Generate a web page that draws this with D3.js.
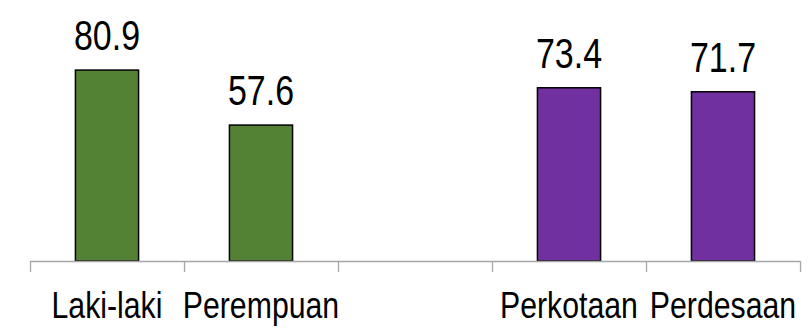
<!DOCTYPE html>
<html lang="en">
<head>
    <meta charset="UTF-8">
    <title>Bar Chart</title>
    <style>
        body { margin: 0; background: #fff; }
        .value-label, .cat-label
        {
            font-family: "Liberation Sans", Arial, sans-serif;
            fill: #000;
        }
        .value-label { font-size: 43px; }
        .cat-label { font-size: 36px; }
    </style>
</head>
<body>

    <svg width="808" height="333"></svg>

    <script src="https://d3js.org/d3.v7.min.js"></script>

    <script>

        // Categories (the empty one is the gap between the two groups)
        const categories = ['Laki-laki', 'Perempuan', '', 'Perkotaan', 'Perdesaan'];
        const values = [80.9, 57.6, null, 73.4, 71.7];
        const colors = ['#548235', '#548235', null, '#7030a0', '#7030a0'];

        const svg = d3.select('svg');

        const margin = { left: 30, right: 8, top: 25, bottom: 72 };
        const width = +svg.attr('width');
        const height = +svg.attr('height');
        const innerWidth = width - margin.left - margin.right;
        const innerHeight = height - margin.top - margin.bottom;

        // No narrow font installed, so squeeze the regular one horizontally
        const narrowValue = 0.79;
        const narrowCat = 0.84;

        const squeeze = function (sel, factor) {
            sel.each(function () {
                const len = this.getComputedTextLength();
                d3.select(this)
                    .attr('textLength', len * factor)
                    .attr('lengthAdjust', 'spacingAndGlyphs');
            });
        };

        const group = svg.append('g')
            .attr('transform', 'translate(' + margin.left + ' ' + margin.top + ')');

        const xScale = d3.scaleBand()
            .domain(d3.range(categories.length))
            .range([0, innerWidth])
            .paddingInner(0.59)
            .paddingOuter(0.295);

        const yScale = d3.scaleLinear()
            .domain([0, 100])
            .range([innerHeight, 0]);

        const data = categories.map(function (c, i) {
            return { i: i, name: c, value: values[i], color: colors[i] };
        });

        // Bars
        group.selectAll('rect.bar')
            .data(data.filter(function (d) { return d.value != null; }))
            .enter()
            .append('rect')
            .attr('class', 'bar')
            .attr('x', function (d) { return xScale(d.i); })
            .attr('width', xScale.bandwidth())
            .attr('y', function (d) { return yScale(d.value); })
            .attr('height', function (d) { return innerHeight - yScale(d.value); })
            .attr('fill', function (d) { return d.color; })
            .attr('stroke', '#000')
            .attr('stroke-width', 1.5);

        // Value labels
        group.selectAll('text.value-label')
            .data(data.filter(function (d) { return d.value != null; }))
            .enter()
            .append('text')
            .attr('class', 'value-label')
            .attr('x', function (d) { return xScale(d.i) + xScale.bandwidth() / 2; })
            .attr('y', function (d) { return yScale(d.value) - 20; })
            .attr('text-anchor', 'middle')
            .text(function (d) { return d.value.toFixed(1); })
            .call(squeeze, narrowValue);

        // X axis: a plain line with ticks at category boundaries
        const edgeScale = d3.scaleLinear()
            .domain([0, categories.length])
            .range([0, innerWidth]);

        const xAxisG = group.append('g')
            .attr('transform', 'translate(0 ' + innerHeight + ')');

        const xAxis = d3.axisBottom(edgeScale)
            .tickValues(d3.range(categories.length + 1))
            .tickSize(11)
            .tickSizeOuter(0)
            .tickFormat('');

        xAxisG.call(xAxis);
        xAxisG.selectAll('path, line')
            .attr('stroke', '#a6a6a6')
            .attr('stroke-width', 1.3);

        // Category labels
        group.selectAll('text.cat-label')
            .data(data.filter(function (d) { return d.name !== ''; }))
            .enter()
            .append('text')
            .attr('class', 'cat-label')
            .attr('x', function (d) { return edgeScale(d.i + 0.5); })
            .attr('y', innerHeight + 57)
            .attr('text-anchor', 'middle')
            .text(function (d) { return d.name; })
            .call(squeeze, narrowCat);

    </script>

</body>
</html>
